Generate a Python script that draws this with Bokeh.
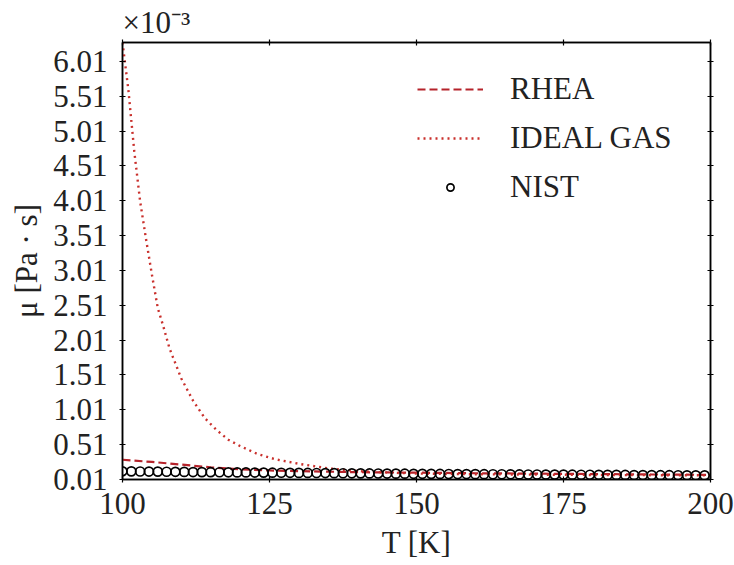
from bokeh.plotting import figure
from bokeh.models import (Range1d, FixedTicker, LinearAxis, Title, Legend,
                          LegendItem, PrintfTickFormatter, CustomJSTickFormatter)
from bokeh.embed import file_html
from bokeh.resources import INLINE

# Temperature [K] and dynamic viscosity [1e-3 Pa s]
T_rhea = [100, 105, 110, 115, 120, 125, 130, 140, 150, 160, 170, 180, 190, 200]
mu_rhea = [0.293, 0.262, 0.224, 0.184, 0.155, 0.140, 0.130, 0.115, 0.108,
           0.100, 0.094, 0.088, 0.082, 0.077]

T_ideal = [100, 101, 102, 103, 104, 105, 106, 107, 108, 110, 112, 114, 116,
           118, 120, 123, 126, 130, 135, 140, 145, 150, 160, 170, 180, 190, 200]
mu_ideal = [6.28, 5.60, 4.72, 4.00, 3.46, 2.95, 2.47, 2.19, 1.89, 1.46, 1.14,
            0.89, 0.72, 0.58, 0.49, 0.375, 0.300, 0.235, 0.170, 0.130, 0.110,
            0.095, 0.085, 0.080, 0.075, 0.072, 0.070]

T_nist = [100.0, 101.5, 103.0, 104.5, 106.0, 107.5, 109.0, 110.5, 112.0, 113.5,
          115.0, 116.5, 118.0, 119.5, 121.0, 122.5, 124.0, 125.5, 127.0, 128.5,
          130.0, 131.5, 133.0, 134.5, 136.0, 137.5, 139.0, 140.5, 142.0, 143.5,
          145.0, 146.5, 148.0, 149.5, 151.0, 152.5, 154.0, 155.5, 157.0, 158.5,
          160.0, 161.5, 163.0, 164.5, 166.0, 167.5, 169.0, 170.5, 172.0, 173.5,
          175.0, 176.5, 178.0, 179.5, 181.0, 182.5, 184.0, 185.5, 187.0, 188.5,
          190.0, 191.5, 193.0, 194.5, 196.0, 197.5, 199.0]
mu_nist = [0.128, 0.127, 0.125, 0.124, 0.123, 0.121, 0.120, 0.119, 0.117, 0.116,
           0.115, 0.114, 0.113, 0.112, 0.111, 0.110, 0.109, 0.108, 0.107, 0.106,
           0.105, 0.104, 0.103, 0.102, 0.101, 0.100, 0.099, 0.098, 0.097, 0.096,
           0.095, 0.094, 0.093, 0.092, 0.092, 0.091, 0.090, 0.089, 0.088, 0.088,
           0.087, 0.086, 0.085, 0.085, 0.084, 0.083, 0.082, 0.082, 0.081, 0.080,
           0.080, 0.079, 0.078, 0.078, 0.077, 0.076, 0.076, 0.075, 0.074, 0.074,
           0.073, 0.072, 0.072, 0.071, 0.070, 0.070, 0.069]

x_ticks = [100, 125, 150, 175, 200]
y_ticks = [0.01, 0.51, 1.01, 1.51, 2.01, 2.51, 3.01, 3.51, 4.01, 4.51, 5.01,
           5.51, 6.01]

FONT = "Liberation Serif"
FS = "31px"
INK = "#222222"
RED_DASH = "#b5232b"
RED_DOT = "#c9302c"

p = figure(width=734, height=565, output_backend="svg", toolbar_location=None,
           x_range=Range1d(100, 200), y_range=Range1d(0.01, 6.28),
           min_border_left=122, min_border_right=24, min_border_top=42,
           min_border_bottom=86)
p.xgrid.visible = False
p.ygrid.visible = False
p.outline_line_color = "black"
p.outline_line_width = 1.5
p.background_fill_color = "white"
p.border_fill_color = "white"

r_rhea = p.line(T_rhea, mu_rhea, line_color=RED_DASH, line_width=2.2,
                line_dash="8 4")
r_ideal = p.line(T_ideal, mu_ideal, line_color=RED_DOT, line_width=2.4,
                 line_dash="2 4")
r_nist = p.scatter(T_nist, mu_nist, marker="circle", size=9, fill_color=None,
                   line_color="black", line_width=1.7)


def style_axis(ax, labels=True):
    ax.axis_line_color = "black"
    ax.axis_line_width = 1.5
    ax.major_tick_in = 3
    ax.major_tick_out = 3
    ax.major_tick_line_width = 1.2
    ax.minor_tick_line_color = None
    ax.major_label_text_font = FONT
    ax.major_label_text_font_size = FS
    ax.major_label_text_color = INK
    ax.axis_label_text_font = FONT
    ax.axis_label_text_font_size = FS
    ax.axis_label_text_font_style = "normal"
    ax.axis_label_text_color = INK
    if not labels:
        ax.formatter = CustomJSTickFormatter(code="return ''")
        ax.major_label_standoff = 0


xa = p.xaxis[0]
xa.ticker = FixedTicker(ticks=x_ticks)
xa.axis_label = "T [K]"
xa.major_label_standoff = 10
xa.axis_label_standoff = 8
style_axis(xa)

ya = p.yaxis[0]
ya.ticker = FixedTicker(ticks=y_ticks)
ya.formatter = PrintfTickFormatter(format="%.2f")
ya.axis_label = "μ [Pa · s]"
ya.major_label_standoff = 12
ya.axis_label_standoff = 6
style_axis(ya)

top = LinearAxis(ticker=FixedTicker(ticks=x_ticks))
style_axis(top, labels=False)
p.add_layout(top, "above")
right = LinearAxis(ticker=FixedTicker(ticks=y_ticks))
style_axis(right, labels=False)
p.add_layout(right, "right")

# Offset factor written above the y axis
p.add_layout(Title(text="×10⁻³", align="left", text_font=FONT,
                   text_font_size=FS, text_font_style="normal",
                   text_color=INK, standoff=0, offset=0), "above")

legend = Legend(items=[LegendItem(label="RHEA", renderers=[r_rhea]),
                       LegendItem(label="IDEAL GAS", renderers=[r_ideal]),
                       LegendItem(label="NIST", renderers=[r_nist])],
                location=(295, 273))
legend.border_line_color = None
legend.background_fill_alpha = 0
legend.label_text_font = FONT
legend.label_text_font_size = FS
legend.label_text_color = INK
legend.glyph_width = 66
legend.glyph_height = 18
legend.label_height = 39
legend.label_standoff = 27
legend.spacing = 10
legend.padding = 0
legend.margin = 0
p.add_layout(legend, "center")

open("out.html", "w").write(file_html(p, INLINE))
